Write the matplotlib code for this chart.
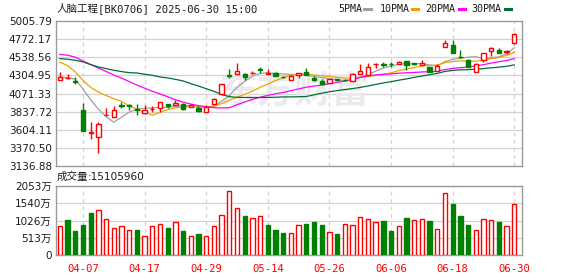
import numpy as np
import pandas as pd
import matplotlib
matplotlib.use("Agg")
import matplotlib.pyplot as plt
from matplotlib.lines import Line2D

plt.rcParams['font.family'] = ['Noto Sans CJK SC', 'DejaVu Sans']

# ---------------- data ----------------
dates = ["04-01", "04-02", "04-03", "04-07", "04-08", "04-09", "04-10", "04-11",
         "04-14", "04-15", "04-16", "04-17", "04-18", "04-21", "04-22", "04-23",
         "04-24", "04-25", "04-28", "04-29", "04-30", "05-06", "05-07", "05-08",
         "05-09", "05-12", "05-13", "05-14", "05-15", "05-16", "05-19", "05-20",
         "05-21", "05-22", "05-23", "05-26", "05-27", "05-28", "05-29", "05-30",
         "06-03", "06-04", "06-05", "06-06", "06-09", "06-10", "06-11", "06-12",
         "06-13", "06-16", "06-17", "06-18", "06-19", "06-20", "06-23", "06-24",
         "06-25", "06-26", "06-27", "06-30"]

opens = [4250, 4266, 4228, 3861, 3565, 3507, 3793, 3766, 3920, 3922,
         3870, 3822, 3866, 3887, 3930, 3926, 3938, 3896, 3887, 3831,
         3939, 4060, 4306, 4319, 4328, 4332, 4392, 4328, 4340, 4285,
         4250, 4315, 4349, 4276, 4228, 4207, 4255, 4245, 4228, 4328,
         4315, 4450, 4450, 4452, 4457, 4487, 4462, 4436, 4414, 4362,
         4673, 4695, 4548, 4500, 4349, 4500, 4621, 4638, 4612, 4716]
highs = [4349, 4325, 4287, 3948, 3702, 3710, 3887, 3905, 3956, 3930,
         3930, 3917, 3905, 3960, 3938, 3982, 3945, 3938, 3905, 3917,
         4017, 4200, 4392, 4466, 4330, 4362, 4414, 4388, 4345, 4292,
         4305, 4335, 4401, 4293, 4263, 4258, 4262, 4260, 4340, 4457,
         4466, 4460, 4479, 4479, 4492, 4489, 4470, 4509, 4416, 4457,
         4760, 4760, 4638, 4522, 4460, 4590, 4666, 4664, 4638, 4846]
lows = [4250, 4262, 4189, 3590, 3486, 3300, 3790, 3762, 3887, 3861,
        3788, 3809, 3831, 3831, 3887, 3924, 3861, 3894, 3831, 3829,
        3935, 4055, 4276, 4315, 4250, 4319, 4336, 4326, 4295, 4270,
        4241, 4276, 4313, 4238, 4187, 4205, 4240, 4232, 4226, 4326,
        4313, 4405, 4414, 4414, 4455, 4371, 4435, 4434, 4349, 4360,
        4670, 4595, 4535, 4410, 4345, 4479, 4556, 4595, 4578, 4712]
closes = [4280, 4272, 4222, 3594, 3580, 3680, 3800, 3853, 3912, 3915,
          3862, 3861, 3872, 3956, 3905, 3943, 3874, 3926, 3844, 3896,
          3995, 4198, 4298, 4362, 4284, 4340, 4371, 4336, 4297, 4280,
          4300, 4332, 4315, 4241, 4189, 4254, 4248, 4240, 4319, 4358,
          4414, 4458, 4445, 4446, 4479, 4444, 4455, 4466, 4349, 4423,
          4725, 4595, 4540, 4414, 4457, 4587, 4664, 4595, 4620, 4833]

# volume in 万 (10k) units
volumes = [860, 1040, 710, 890, 1250, 1330, 1060, 790, 850, 730,
           740, 560, 850, 910, 800, 970, 710, 560, 620, 560,
           850, 1180, 1900, 1390, 1160, 1090, 1150, 890, 740, 650,
           640, 880, 920, 980, 890, 670, 620, 910, 880, 1120,
           1060, 970, 1010, 710, 850, 1100, 1030, 1060, 1010, 760,
           1840, 1520, 1160, 890, 730, 1060, 1030, 980, 850, 1510]
# 1 = up day (red), 0 = down day (green) as coloured on the volume panel
vol_up = [1, 0, 0, 0, 0, 1, 1, 1, 1, 1,
          0, 1, 1, 1, 0, 1, 0, 1, 0, 1,
          1, 1, 1, 1, 0, 1, 1, 0, 0, 0,
          1, 1, 0, 0, 0, 1, 0, 1, 1, 1,
          1, 1, 0, 0, 1, 0, 1, 1, 0, 1,
          1, 0, 0, 0, 1, 1, 1, 0, 1, 1]

# moving-average values read off the chart where the window reaches
# before the first visible day
ma5_head = [4280, 4275, 4255, 4130]
ma10_head = [4475, 4430, 4350, 4240, 4150, 4090, 4045, 4005, 3970]
ma20_head = [4575, 4565, 4540, 4490, 4445, 4400, 4355, 4310, 4270, 4225,
             4180, 4140, 4100, 4065, 4030, 3990, 3960, 3935, 3915]
ma30_head = [4522, 4513, 4500, 4479, 4444, 4414, 4392, 4371, 4354, 4340,
             4336, 4319, 4306, 4284, 4272, 4254, 4233, 4198, 4168, 4133,
             4099, 4060, 4030, 4022, 4020, 4020, 4020, 4021, 4023]

price_ticks = [3136.88, 3370.50, 3604.11, 3837.72, 4071.33, 4304.95,
               4538.56, 4772.17, 5005.79]
vol_ticks = [0, 513, 1026, 1540, 2053]
vol_tick_labels = ["0", "513万", "1026万", "1540万", "2053万"]
xtick_dates = ["04-07", "04-17", "04-29", "05-14", "05-26", "06-06", "06-18", "06-30"]

title_name = "人脑工程"
title_rest = "[BK0706] 2025-06-30 15:00"
vol_name = "成交量"
vol_rest = ":15105960"
legend_items = [("5PMA", "#a0a0a0"), ("10PMA", "#f0a000"),
                ("20PMA", "#ff00ff"), ("30PMA", "#006e32")]

# ---------------- figure ----------------
W, H = 578, 276
fig = plt.figure(figsize=(W / 100, H / 100), dpi=100)
fig.patch.set_facecolor("white")


def fx(px):
    return px / W


def fy(py):
    return 1 - py / H


L, R = 56, 522
ax = fig.add_axes([fx(L), fy(166), fx(R - L), (166 - 21) / H])
axv = fig.add_axes([fx(L), fy(255), fx(R - L), (255 - 186) / H])

RED = "#ff0000"
GREEN = "#008000"
GRID = "#d3d3d3"
SPINE = "#9a9a9a"
TXT = "#1a1a1a"
MONO = "DejaVu Sans Mono"

x = np.arange(len(dates))
o = np.array(opens, float)
h = np.array(highs, float)
l = np.array(lows, float)
c = np.array(closes, float)
up = c >= o
bw = 0.56

s = pd.Series(c)
ma_series = []
for n, head in ((5, ma5_head), (10, ma10_head), (20, ma20_head), (30, ma30_head)):
    m = s.rolling(n).mean().to_numpy()
    m[:len(head)] = head
    ma_series.append(m)

tick_idx = [dates.index(d) for d in xtick_dates]

for a in (ax, axv):
    a.set_xlim(-0.5, 60.0)
    for sp in a.spines.values():
        sp.set_color(SPINE)
        sp.set_linewidth(1.0)
    a.set_xticks([])
    for ti in tick_idx:
        a.axvline(ti, color=GRID, lw=0.9, ls=(0, (3, 3)), zorder=0)
    a.tick_params(axis="y", length=0, pad=3, labelsize=7.5, labelcolor=TXT)

# price panel
ax.set_ylim(price_ticks[0], price_ticks[-1])
ax.set_yticks(price_ticks)
ax.set_yticklabels([f"{t:.2f}" for t in price_ticks], family="DejaVu Sans")
for t in price_ticks[1:-1]:
    ax.axhline(t, color=GRID, lw=0.9, zorder=0)

# watermark
ax.text(30.5, 4085, "东方财富", fontsize=27, fontweight="bold", style="italic",
        color="#ebebef", ha="center", va="center", zorder=0)

# moving averages
for m, (_, col) in zip(ma_series, legend_items):
    ax.plot(x, m, color=col, lw=0.9, zorder=2)

# candles
for i in range(len(x)):
    top, bot = max(o[i], c[i]), min(o[i], c[i])
    hgt = max(top - bot, 2.0)
    if up[i]:
        ax.vlines(x[i], top, h[i], color=RED, lw=1.0, zorder=3)
        ax.vlines(x[i], l[i], bot, color=RED, lw=1.0, zorder=3)
        ax.bar(x[i], hgt, bottom=bot, width=bw, facecolor="white",
               edgecolor=RED, linewidth=1.0, zorder=4)
    else:
        ax.vlines(x[i], l[i], h[i], color=GREEN, lw=1.0, zorder=3)
        ax.bar(x[i], hgt, bottom=bot, width=bw, facecolor=GREEN,
               edgecolor=GREEN, linewidth=1.0, zorder=4)

# volume panel
axv.set_ylim(0, vol_ticks[-1])
axv.set_yticks(vol_ticks)
axv.set_yticklabels(vol_tick_labels)
for lab in axv.get_yticklabels():
    lab.set_family(["DejaVu Sans", "Noto Sans CJK SC"])
for t in vol_ticks[1:-1]:
    axv.axhline(t, color=GRID, lw=0.9, zorder=0)
vu = np.array(vol_up, bool)
vv = np.array(volumes, float)
axv.bar(x[vu], vv[vu], width=bw, facecolor="white", edgecolor=RED, linewidth=1.0, zorder=3)
axv.bar(x[~vu], vv[~vu], width=bw, facecolor=GREEN, edgecolor=GREEN, linewidth=1.0, zorder=3)

# x labels (red) under volume panel
for ti in tick_idx:
    axv.text(ti, -0.13, dates[ti], transform=axv.get_xaxis_transform(),
             ha="center", va="top", color=RED, fontsize=7.6, family=MONO)

# texts
fig.text(fx(56), fy(9), title_name, fontsize=7.6, color=TXT, ha="left", va="center")
fig.text(fx(98), fy(9), title_rest, fontsize=7.6, color=TXT, ha="left", va="center",
         family=MONO)
fig.text(fx(57), fy(177), vol_name, fontsize=7.6, color=TXT, ha="left", va="center")
fig.text(fx(88), fy(177), vol_rest, fontsize=7.6, color=TXT, ha="left", va="center",
         family="DejaVu Sans")

# legend
leg_pos = [(338.5, 364.5), (380, 412), (425, 459), (471, 504.5)]
for (lab, col), (tx, lx) in zip(legend_items, leg_pos):
    fig.text(fx(tx), fy(9), lab, fontsize=7.2, color=TXT, ha="left",
             va="center", family=MONO)
    fig.add_artist(Line2D([fx(lx), fx(lx + 6)], [fy(9), fy(9)], color=col,
                          lw=2.2, transform=fig.transFigure))

fig.savefig("out.png", dpi=100, facecolor="white")
